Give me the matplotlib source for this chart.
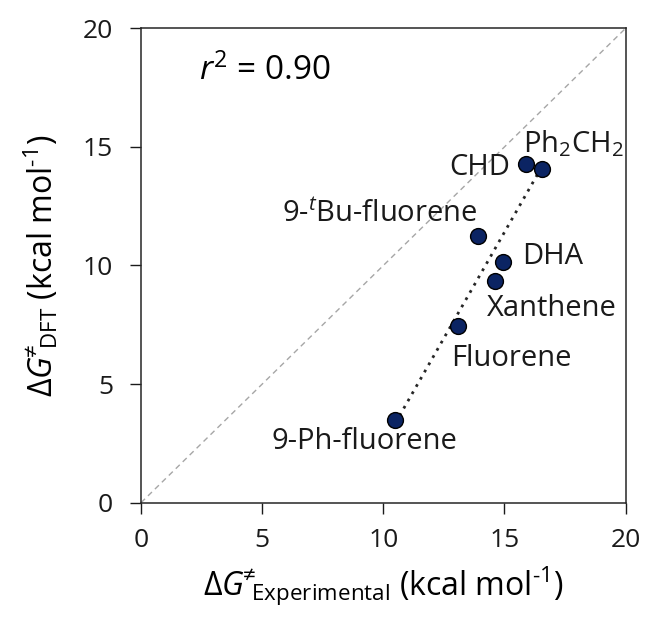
import numpy as np
import matplotlib
matplotlib.use("Agg")
import matplotlib.pyplot as plt

plt.rcParams["font.family"] = ["Open Sans", "DejaVu Sans"]
plt.rcParams["mathtext.fontset"] = "custom"
plt.rcParams["mathtext.rm"] = "Open Sans"
plt.rcParams["mathtext.it"] = "Open Sans:italic"

# barrier heights (kcal/mol): experiment vs DFT
compounds = ["9-Ph-fluorene", "Fluorene", "Xanthene", "DHA",
             r"9-$^{\it t}$Bu-fluorene", "CHD", r"Ph$_2$CH$_2$"]
dg_exp = [10.5, 13.1, 14.6, 14.95, 13.9, 15.9, 16.55]
dg_dft = [3.5, 7.45, 9.35, 10.13, 11.25, 14.28, 14.05]

# label placement: offset in pixels from the marker, alignment
label_offsets = [(-31, -22, "center"), (-7, -33, "left"), (-8, -28, "left"),
                 (19, 6, "left"), (0, 21, "right"), (-16, -4, "right"),
                 (-19, 26, "left")]

fig = plt.figure(figsize=(6.49, 6.19), dpi=100)
ax = fig.add_axes([0.2173, 0.1879, 0.7467, 0.7664])

# parity line
ax.plot([0, 20], [0, 20], color="#a6a6a6", lw=1.0, ls=(0, (4, 3)), zorder=1)

# linear fit through the data
slope, icpt = np.polyfit(dg_exp, dg_dft, 1)
xs = np.array([min(dg_exp), max(dg_exp)])
ax.plot(xs, slope * xs + icpt, color="#262626", lw=2.0, ls=(0, (1, 2)), zorder=2)

ax.scatter(dg_exp, dg_dft, s=130, color="#0b2463", edgecolor="black",
           linewidth=1.0, zorder=3)

for name, x, y, (dx, dy, ha) in zip(compounds, dg_exp, dg_dft, label_offsets):
    ax.annotate(name, (x, y), xytext=(dx, dy), textcoords="offset pixels",
                ha=ha, va="center", fontsize=21, color="#1a1a1a")

ax.text(0.12, 0.91, r"$\it{r}^{\rm 2}$ = 0.90", transform=ax.transAxes,
        fontsize=24, ha="left", va="center", color="black")

ax.set_xlim(0, 20)
ax.set_ylim(0, 20)
ax.set_xticks([0, 5, 10, 15, 20])
ax.set_yticks([0, 5, 10, 15, 20])
ax.tick_params(axis="both", direction="out", length=8, width=1.0,
               labelsize=19, colors="#1a1a1a")
ax.tick_params(axis="x", pad=10)
ax.tick_params(axis="y", pad=12)
for sp in ax.spines.values():
    sp.set_linewidth(1.1)
    sp.set_color("#262626")

ax.set_xlabel("$\\Delta G\\!^{\\neq}\\!\\!{}_{\\rm Experimental}$ (kcal mol$^{\\rm \u20101}$)",
              fontsize=23, labelpad=9)
ax.set_ylabel("$\\Delta G\\!^{\\neq}\\!\\!{}_{\\rm DFT}$ (kcal mol$^{\\rm \u20101}$)",
              fontsize=23, labelpad=16)

fig.savefig("out.png", dpi=100)
